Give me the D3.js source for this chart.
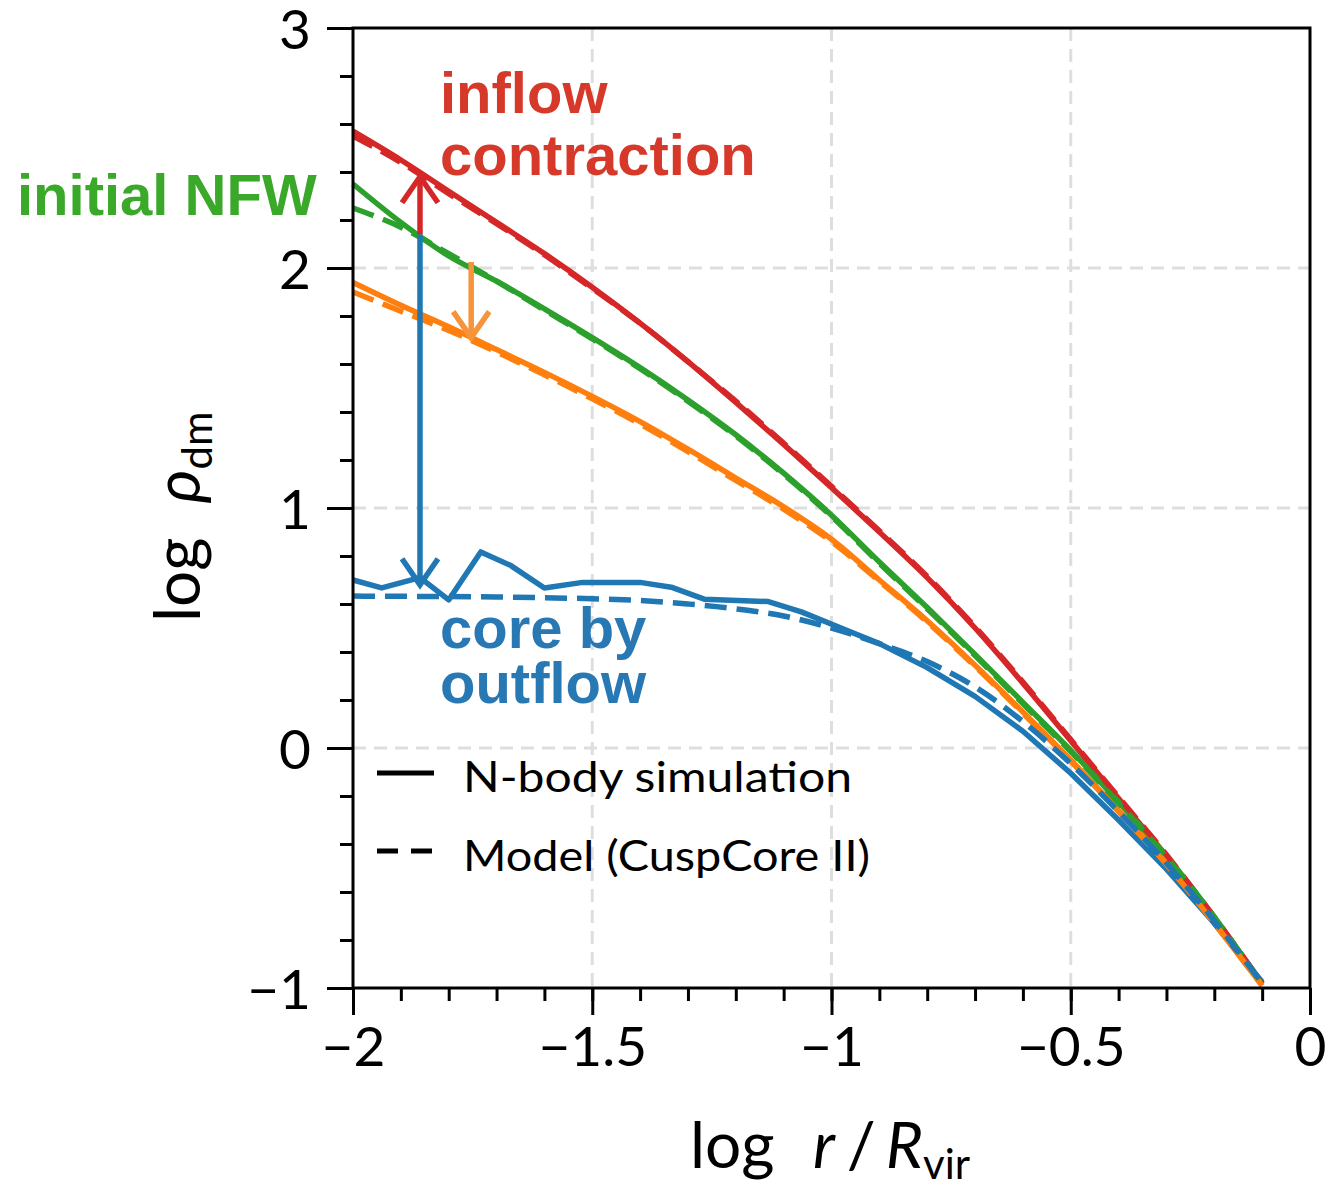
<!DOCTYPE html>
<html>
<head>
<meta charset="utf-8">
<script src="https://cdn.jsdelivr.net/npm/d3@7"></script>
<style>
  body { margin: 0; background: #fff; }
  svg { display: block; }
</style>
</head>
<body>
<svg id="chart"></svg>
<script>
// log r / Rvir sampling for the smooth profiles
const xGrid = [-2, -1.9, -1.8, -1.7, -1.6, -1.5, -1.4, -1.3, -1.2, -1.1, -1, -0.9, -0.8, -0.7, -0.6, -0.5, -0.4, -0.3, -0.2, -0.1];

// inflow contraction (red)
const redSim   = [2.57, 2.45, 2.32, 2.19, 2.06, 1.92, 1.77, 1.61, 1.44, 1.265, 1.085, 0.90, 0.71, 0.50, 0.27, 0.03, -0.21, -0.45, -0.71, -0.98];
const redModel = [2.55, 2.44, 2.31, 2.185, 2.055, 1.915, 1.77, 1.61, 1.445, 1.27, 1.09, 0.905, 0.715, 0.505, 0.275, 0.035, -0.205, -0.445, -0.705, -0.98];
// initial NFW (green)
const greenSim   = [2.35, 2.19, 2.05, 1.945, 1.83, 1.71, 1.585, 1.45, 1.305, 1.145, 0.97, 0.775, 0.585, 0.39, 0.19, -0.01, -0.225, -0.45, -0.705, -0.985];
const greenModel = [2.25, 2.17, 2.06, 1.945, 1.825, 1.705, 1.58, 1.445, 1.30, 1.14, 0.965, 0.77, 0.58, 0.385, 0.185, -0.015, -0.23, -0.455, -0.705, -0.985];
// mild expansion (orange)
const orangeSim   = [1.94, 1.845, 1.755, 1.66, 1.565, 1.465, 1.36, 1.245, 1.125, 1.005, 0.87, 0.70, 0.53, 0.345, 0.15, -0.05, -0.26, -0.48, -0.73, -0.99];
const orangeModel = [1.90, 1.82, 1.74, 1.65, 1.555, 1.455, 1.35, 1.235, 1.115, 0.995, 0.86, 0.695, 0.525, 0.34, 0.145, -0.055, -0.265, -0.485, -0.73, -0.99];
// core by outflow (blue): simulation has its own (noisy) bins
const blueSimX = [-2, -1.94, -1.86, -1.80, -1.733, -1.67, -1.60, -1.52, -1.40, -1.335, -1.266, -1.132, -1.063, -0.98, -0.9, -0.8, -0.7, -0.6, -0.5, -0.4, -0.3, -0.2, -0.1];
const blueSimY = [0.70, 0.667, 0.71, 0.617, 0.817, 0.76, 0.667, 0.69, 0.69, 0.67, 0.62, 0.61, 0.567, 0.50, 0.435, 0.335, 0.215, 0.07, -0.105, -0.30, -0.505, -0.73, -0.975];
const blueModel = [0.633, 0.632, 0.631, 0.629, 0.626, 0.622, 0.615, 0.60, 0.58, 0.55, 0.50, 0.435, 0.36, 0.255, 0.11, -0.065, -0.265, -0.48, -0.72, -0.98];

const xTicks = [-2, -1.5, -1, -0.5, 0];
const yTicks = [-1, 0, 1, 2, 3];
const xMinor = d3.range(-2, 0.001, 0.1).map(d => +d.toFixed(1));
const yMinor = d3.range(-1, 3.001, 0.2).map(d => +d.toFixed(1));

const width = 1332;
const height = 1185;
const plotL = 353, plotR = 1310, plotT = 28, plotB = 988;

const svg = d3.select("#chart").attr("width", width).attr("height", height);

const x = d3.scaleLinear().domain([-2, 0]).range([plotL, plotR]);
const y = d3.scaleLinear().domain([-1, 3]).range([plotB, plotT]);

const tickFont = "Lato, 'Noto Sans', sans-serif";

// dashed grid at the major ticks
const grid = svg.append("g")
  .attr("stroke", "#dedede")
  .attr("stroke-width", 3)
  .attr("stroke-dasharray", "13 8");
grid.selectAll("line.v")
  .data(xTicks.slice(1, -1))
  .join("line")
  .attr("class", "v")
  .attr("x1", d => x(d)).attr("x2", d => x(d))
  .attr("y1", plotT).attr("y2", plotB);
grid.selectAll("line.h")
  .data(yTicks.slice(1, -1))
  .join("line")
  .attr("class", "h")
  .attr("x1", plotL).attr("x2", plotR)
  .attr("y1", d => y(d)).attr("y2", d => y(d));

// curves
const lineSmooth = d3.line()
  .x((d, i) => x(xGrid[i]))
  .y(d => y(d))
  .curve(d3.curveMonotoneX);

const lineRaw = d3.line()
  .x(d => x(d[0]))
  .y(d => y(d[1]));

const curves = svg.append("g").attr("fill", "none").attr("stroke-width", 5.5).attr("stroke-linejoin", "round");

const sims = [
  { v: redSim, c: "#d62728" },
  { v: greenSim, c: "#2ca02c" },
  { v: orangeSim, c: "#ff7f0e" }
];
sims.forEach(s => {
  curves.append("path").attr("d", lineSmooth(s.v)).attr("stroke", s.c);
});
curves.append("path")
  .attr("d", lineRaw(blueSimX.map((d, i) => [d, blueSimY[i]])))
  .attr("stroke", "#1f77b4");

const models = [
  { v: redModel, c: "#d62728" },
  { v: greenModel, c: "#2ca02c" },
  { v: orangeModel, c: "#ff7f0e" },
  { v: blueModel, c: "#1f77b4" }
];
models.forEach(m => {
  curves.append("path")
    .attr("d", lineSmooth(m.v))
    .attr("stroke", m.c)
    .attr("stroke-dasharray", "22 10");
});

// frame
svg.append("rect")
  .attr("x", plotL).attr("y", plotT)
  .attr("width", plotR - plotL).attr("height", plotB - plotT)
  .attr("fill", "none").attr("stroke", "#000").attr("stroke-width", 3);

// axes
const fmt = d3.format("~g");

const xAxis = svg.append("g")
  .attr("transform", `translate(0,${plotB})`)
  .call(d3.axisBottom(x).tickValues(xTicks).tickSize(27).tickPadding(12).tickFormat(fmt));
const xAxisMinor = svg.append("g")
  .attr("transform", `translate(0,${plotB})`)
  .call(d3.axisBottom(x).tickValues(xMinor).tickSize(13).tickFormat(""));

const yAxis = svg.append("g")
  .attr("transform", `translate(${plotL},0)`)
  .call(d3.axisLeft(y).tickValues(yTicks).tickSize(26).tickPadding(16).tickFormat(fmt));
const yAxisMinor = svg.append("g")
  .attr("transform", `translate(${plotL},0)`)
  .call(d3.axisLeft(y).tickValues(yMinor).tickSize(13).tickFormat(""));

[xAxis, xAxisMinor, yAxis, yAxisMinor].forEach(a => {
  a.select(".domain").remove();
  a.selectAll(".tick line").attr("stroke", "#000").attr("stroke-width", 3);
  a.selectAll(".tick text")
    .attr("fill", "#000")
    .style("font-family", tickFont)
    .style("font-size", "55px");
});
yAxis.selectAll(".tick text").attr("dy", "0.38em");

// axis titles
const xTitle = svg.append("text")
  .attr("x", 690).attr("y", 1168)
  .style("font-family", tickFont)
  .style("font-size", "64px")
  .attr("fill", "#000");
xTitle.append("tspan").text("log ");
xTitle.append("tspan").attr("dx", 22).style("font-style", "italic").text("r");
xTitle.append("tspan").attr("dx", 12).text("/");
xTitle.append("tspan").attr("dx", 10).style("font-style", "italic").text("R");
xTitle.append("tspan").attr("dy", 11).style("font-size", "42px").text("vir");

const yTitle = svg.append("text")
  .attr("transform", "translate(200,622) rotate(-90)")
  .style("font-family", tickFont)
  .style("font-size", "64px")
  .attr("fill", "#000");
yTitle.append("tspan").text("log ");
yTitle.append("tspan").attr("dx", 18).style("font-style", "italic").text("ρ");
yTitle.append("tspan").attr("dy", 12).style("font-size", "42px").text("dm");

// legend
const legend = svg.append("g");
legend.append("line")
  .attr("x1", 377).attr("x2", 434).attr("y1", 773).attr("y2", 773)
  .attr("stroke", "#000").attr("stroke-width", 5);
legend.append("line")
  .attr("x1", 377).attr("x2", 434).attr("y1", 851).attr("y2", 851)
  .attr("stroke", "#000").attr("stroke-width", 5)
  .attr("stroke-dasharray", "21 13");
legend.append("text")
  .attr("x", 463).attr("y", 792)
  .attr("textLength", 389).attr("lengthAdjust", "spacingAndGlyphs")
  .style("font-family", tickFont).style("font-size", "43px")
  .text("N-body simulation");
legend.append("text")
  .attr("x", 463).attr("y", 871)
  .attr("textLength", 407).attr("lengthAdjust", "spacingAndGlyphs")
  .style("font-family", tickFont).style("font-size", "43px")
  .text("Model (CuspCore II)");

// arrows with open heads
function arrow(xv, y0, y1, color) {
  const px = x(xv), p0 = y(y0), p1 = y(y1);
  const dir = p1 < p0 ? 1 : -1;
  const g = svg.append("g")
    .attr("stroke", color).attr("stroke-width", 5.5).attr("fill", "none")
    .attr("stroke-linecap", "butt");
  g.append("line").attr("x1", px).attr("x2", px).attr("y1", p0).attr("y2", p1 + dir * 2);
  g.append("path")
    .attr("stroke-linejoin", "miter")
    .attr("d", `M${px - 18},${p1 + dir * 26}L${px},${p1}L${px + 18},${p1 + dir * 26}`);
}
arrow(-1.86, 2.14, 2.38, "#d62728");
arrow(-1.86, 2.14, 0.68, "#1f77b4");
arrow(-1.753, 2.025, 1.71, "#f5943a");

// annotations
const notes = [
  { t: "inflow", x: 440, y: 113, c: "#d6392a" },
  { t: "contraction", x: 440, y: 175, c: "#d6392a" },
  { t: "initial NFW", x: 17, y: 215, c: "#3aa828" },
  { t: "core by", x: 440, y: 648, c: "#2878b4" },
  { t: "outflow", x: 440, y: 703, c: "#2878b4" }
];
svg.append("g")
  .selectAll("text")
  .data(notes)
  .join("text")
  .attr("x", d => d.x).attr("y", d => d.y)
  .attr("fill", d => d.c)
  .style("font-family", "Arial, 'Liberation Sans', sans-serif")
  .style("font-weight", "bold")
  .style("font-size", "58px")
  .text(d => d.t);
</script>
</body>
</html>
